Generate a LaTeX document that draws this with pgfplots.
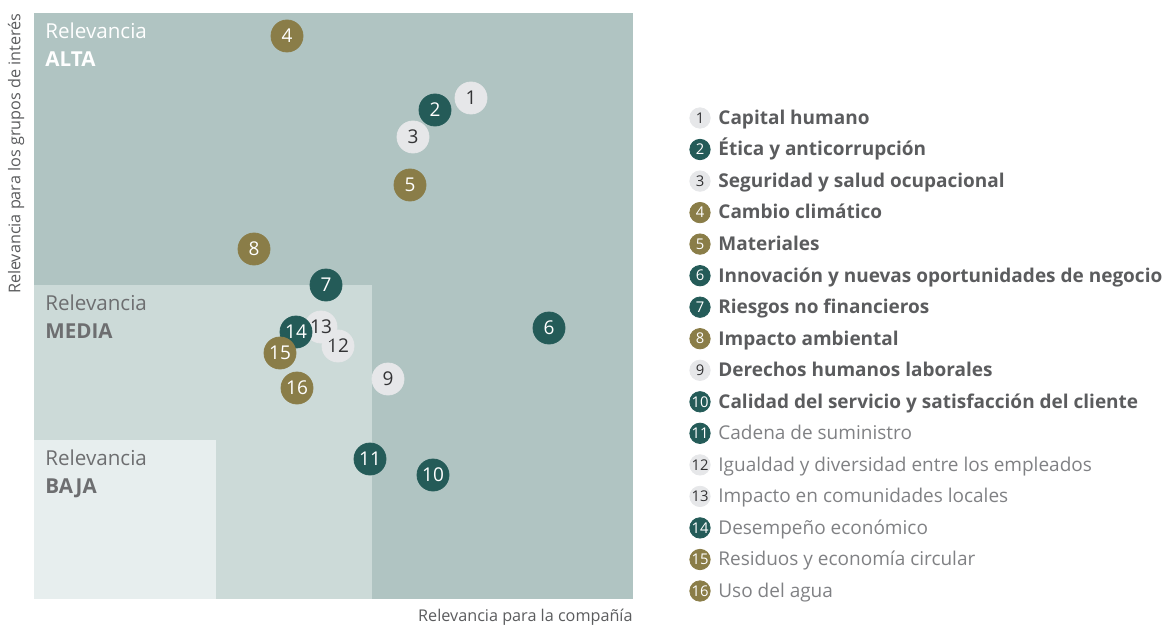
\documentclass[border=0pt]{standalone}
\usepackage{fontspec}
\setmainfont{Open Sans}
\usepackage{pgfplots}
\pgfplotsset{compat=1.18}
\definecolor{alta}{HTML}{B0C4C2}
\definecolor{media}{HTML}{CCDAD8}
\definecolor{baja}{HTML}{E7EEEE}
\definecolor{tealdark}{HTML}{245B58}
\definecolor{olive}{HTML}{8A7D48}
\definecolor{lightdot}{HTML}{E6E7E9}
\definecolor{numdark}{HTML}{333335}
\definecolor{txtdark}{HTML}{5B5C5E}
\definecolor{txtlight}{HTML}{808184}
\definecolor{zonegray}{HTML}{6D6E70}
\begin{document}
\begin{tikzpicture}
\begin{axis}[width=299.5pt,height=293pt,scale only axis,
  xmin=34,xmax=633,ymin=29,ymax=615,hide axis,clip=false,
  dot/.style={only marks,color=#1,mark=*,mark size=8pt,
    point meta=explicit symbolic,nodes near coords,
    every node near coord/.append style={anchor=center,inner sep=0pt,font=\fontsize{9.5}{10}\selectfont}},
  ldot/.style={only marks,color=#1,mark=*,mark size=5.1pt,
    point meta=explicit symbolic,nodes near coords,
    every node near coord/.append style={anchor=center,inner sep=0pt,font=\fontsize{7.4}{8}\selectfont}},
  ltext/.style={only marks,mark=*,mark size=0pt,point meta=explicit symbolic,nodes near coords,
    every node near coord/.append style={anchor=base west,inner sep=0pt,xshift=9pt,yshift=-3.2pt,text=#1}}]
% zones
\addplot[fill=alta,draw=none] coordinates {(34,29) (633,29) (633,615) (34,615)} -- cycle;
\addplot[fill=media,draw=none] coordinates {(34,29) (372,29) (372,343) (34,343)} -- cycle;
\addplot[fill=baja,draw=none] coordinates {(34,29) (216,29) (216,188) (34,188)} -- cycle;
\node[anchor=north west,align=left,inner sep=0pt,text=white,font=\fontsize{10.3}{14}\selectfont] at (axis cs:45,606) {Relevancia\\\textbf{ALTA}};
\node[anchor=north west,align=left,inner sep=0pt,text=zonegray,font=\fontsize{10.3}{14}\selectfont] at (axis cs:45,334) {Relevancia\\\textbf{MEDIA}};
\node[anchor=north west,align=left,inner sep=0pt,text=zonegray,font=\fontsize{10.3}{14}\selectfont] at (axis cs:45,179) {Relevancia\\\textbf{BAJA}};
% topics
\addplot[dot=lightdot,every node near coord/.append style={text=numdark}] coordinates {
 (471,530) [1] (413,491) [3] (388,249) [9] (338,282) [12] (321,301) [13]};
\addplot[dot=tealdark,every node near coord/.append style={text=white}] coordinates {
 (435,518) [2] (549,300) [6] (326,343) [7] (433,153) [10] (370,169) [11] (296,296) [14]};
\addplot[dot=olive,every node near coord/.append style={text=white}] coordinates {
 (287,592) [4] (410,443) [5] (254,379) [8] (280,275) [15] (297,240) [16]};
% axis titles
\node[rotate=90,anchor=east,inner sep=0pt,text=txtdark,font=\fontsize{8.1}{9}\selectfont] at (axis cs:16,615) {Relevancia para los grupos de interés};
\node[anchor=east,inner sep=0pt,text=txtdark,font=\fontsize{8.1}{9}\selectfont] at (axis cs:633,11) {Relevancia para la compañía};
% legend
\addplot[ldot=lightdot,every node near coord/.append style={text=numdark}] coordinates {
 (700,510) [1] (700,446.9) [3] (700,257.7) [9] (700,163.1) [12] (700,131.6) [13]};
\addplot[ldot=tealdark,every node near coord/.append style={text=white}] coordinates {
 (700,478.5) [2] (700,352.3) [6] (700,320.8) [7] (700,226.2) [10] (700,194.7) [11] (700,100.1) [14]};
\addplot[ldot=olive,every node near coord/.append style={text=white}] coordinates {
 (700,415.4) [4] (700,383.9) [5] (700,289.3) [8] (700,68.5) [15] (700,37.0) [16]};
\addplot[ltext=txtdark,every node near coord/.append style={font=\fontsize{9.5}{10}\bfseries}] coordinates {
 (700,510) [Capital humano]
 (700,478.5) [Ética y anticorrupción]
 (700,446.9) [Seguridad y salud ocupacional]
 (700,415.4) [Cambio climático]
 (700,383.9) [Materiales]
 (700,352.3) [Innovación y nuevas oportunidades de negocio]
 (700,320.8) [Riesgos no financieros]
 (700,289.3) [Impacto ambiental]
 (700,257.7) [Derechos humanos laborales]
 (700,226.2) [Calidad del servicio y satisfacción del cliente]};
\addplot[ltext=txtlight,every node near coord/.append style={font=\fontsize{9.5}{10}\selectfont}] coordinates {
 (700,194.7) [Cadena de suministro]
 (700,163.1) [Igualdad y diversidad entre los empleados]
 (700,131.6) [Impacto en comunidades locales]
 (700,100.1) [Desempeño económico]
 (700,68.5) [Residuos y economía circular]
 (700,37.0) [Uso del agua]};
\path (axis cs:0,0) rectangle (axis cs:1173,628);
\end{axis}
\end{tikzpicture}
\end{document}
